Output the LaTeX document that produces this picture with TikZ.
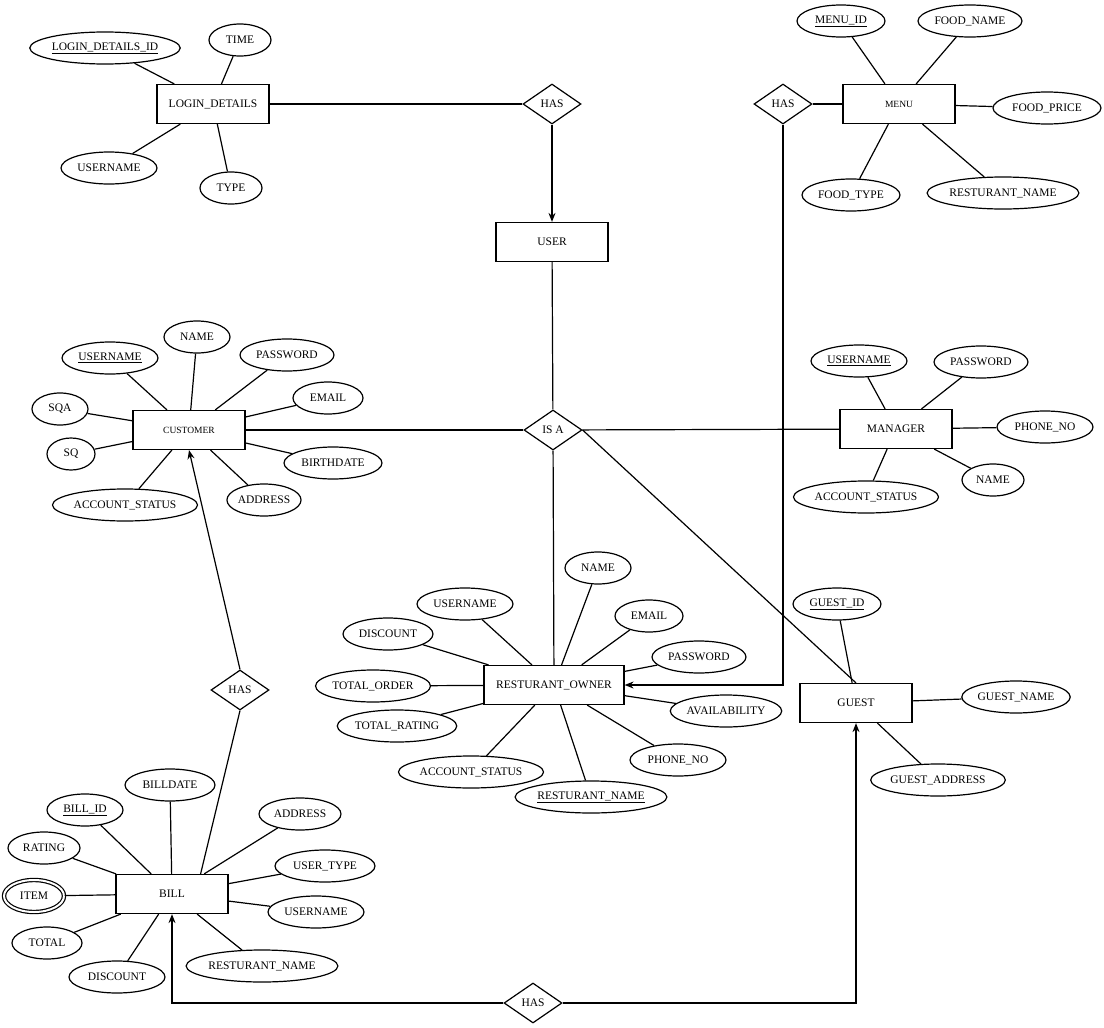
\documentclass[tikz,border=0pt]{standalone}
\usepackage{fontspec}
\setmainfont{Liberation Serif}
\usetikzlibrary{shapes.geometric,arrows.meta}
\begin{document}
\begin{tikzpicture}[x=1pt,y=-1pt,line width=1.2pt,
  font=\fontsize{11.5}{13}\selectfont,
  ent/.style={draw,rectangle,minimum width=112pt,minimum height=39pt,inner sep=0pt},
  rel/.style={draw,diamond,minimum width=58pt,minimum height=40pt,inner sep=0pt,aspect=1.45},
  att/.style={draw,ellipse,minimum height=32pt,inner sep=0pt},
  mv/.style={att,double,double distance=2pt},
  arr/.style={-{Stealth[length=9pt,width=7pt]}}]
\useasboundingbox (0,0) rectangle (1104,1028);
% entities
\node[ent] (ld) at (213,104) {LOGIN\_DETAILS};
\node[ent] (user) at (552,242) {USER};
\node[ent] (menu) at (899,104) {\fontsize{9.5}{11}\selectfont MENU};
\node[ent] (cust) at (189,430) {\fontsize{9.5}{11}\selectfont CUSTOMER};
\node[ent] (mgr) at (896,429) {MANAGER};
\node[ent,minimum width=140pt] (ro) at (554,685) {RESTURANT\_OWNER};
\node[ent] (guest) at (856,703) {GUEST};
\node[ent] (bill) at (172,894) {BILL};
% relations
\node[rel] (has1) at (552,104) {HAS};
\node[rel] (has2) at (783,104) {HAS};
\node[rel] (isa) at (553,430) {IS A};
\node[rel] (has3) at (240,690) {HAS};
\node[rel] (has4) at (533,1003) {HAS};
% attributes
\newcommand{\att}[5][att]{\node[#1,minimum width=#4pt] (#2) at #3 {#5};}
\att{a1}{(105,48)}{130}{\underline{LOGIN\_DETAILS\_ID}}
\att{a2}{(240,40)}{62}{TIME}
\att{a3}{(109,168)}{96}{USERNAME}
\att{a4}{(231,188)}{62}{TYPE}
\foreach \a in {a1,a2,a3,a4} \draw (\a) -- (ld);
\att{m1}{(841,21)}{88}{\underline{MENU\_ID}}
\att{m2}{(970,21)}{104}{FOOD\_NAME}
\att{m3}{(1047,108)}{108}{FOOD\_PRICE}
\att{m4}{(851,195)}{98}{FOOD\_TYPE}
\att{m5}{(1003,193)}{142}{RESTURANT\_NAME}
\foreach \a in {m1,m2,m3,m4,m5} \draw (\a) -- (menu);
\att{c1}{(110,358)}{96}{\underline{USERNAME}}
\att{c2}{(197,337)}{66}{NAME}
\att{c3}{(287,355)}{94}{PASSWORD}
\att{c4}{(328,398)}{70}{EMAIL}
\att{c5}{(60,409)}{56}{SQA}
\att{c6}{(71,454)}{48}{SQ}
\att{c7}{(333,463)}{98}{BIRTHDATE}
\att{c8}{(125,505)}{132}{ACCOUNT\_STATUS}
\att{c9}{(264,500)}{74}{ADDRESS}
\foreach \a in {c1,c2,c3,c4,c5,c6,c7,c8,c9} \draw (\a) -- (cust);
\att{g1}{(859,361)}{96}{\underline{USERNAME}}
\att{g2}{(981,362)}{94}{PASSWORD}
\att{g3}{(1045,427)}{96}{PHONE\_NO}
\att{g4}{(993,480)}{62}{NAME}
\att{g5}{(866,497)}{132}{ACCOUNT\_STATUS}
\foreach \a in {g1,g2,g3,g4,g5} \draw (\a) -- (mgr);
\att{r1}{(598,568)}{66}{NAME}
\att{r2}{(465,604)}{96}{USERNAME}
\att{r3}{(649,616)}{68}{EMAIL}
\att{r4}{(388,634)}{90}{DISCOUNT}
\att{r5}{(699,657)}{94}{PASSWORD}
\att{r6}{(373,686)}{110}{TOTAL\_ORDER}
\att{r7}{(726,711)}{110}{AVAILABILITY}
\att{r8}{(397,726)}{116}{TOTAL\_RATING}
\att{r9}{(678,760)}{96}{PHONE\_NO}
\att{r10}{(471,772)}{136}{ACCOUNT\_STATUS}
\att{r11}{(591,797)}{142}{\underline{RESTURANT\_NAME}}
\foreach \a in {r1,r2,r3,r4,r5,r6,r7,r8,r9,r10,r11} \draw (\a) -- (ro);
\att{u1}{(837,604)}{88}{\underline{GUEST\_ID}}
\att{u2}{(1016,697)}{106}{GUEST\_NAME}
\att{u3}{(938,780)}{126}{GUEST\_ADDRESS}
\foreach \a in {u1,u2,u3} \draw (\a) -- (guest);
\att{b1}{(170,785)}{90}{BILLDATE}
\att{b2}{(85,810)}{76}{\underline{BILL\_ID}}
\att{b3}{(300,814)}{82}{ADDRESS}
\att{b4}{(44,848)}{72}{RATING}
\att{b5}{(325,866)}{100}{USER\_TYPE}
\att[mv]{b6}{(34,896)}{60}{ITEM}
\att{b7}{(316,912)}{96}{USERNAME}
\att{b8}{(47,943)}{70}{TOTAL}
\att{b9}{(117,977)}{96}{DISCOUNT}
\att{b10}{(262,966)}{142}{RESTURANT\_NAME}
\foreach \a in {b1,b2,b3,b4,b5,b6,b7,b8,b9,b10} \draw (\a) -- (bill);
% relationships
\draw (ld) -- (has1);
\draw[arr] (has1) -- (user);
\draw (menu) -- (has2);
\draw[arr] (has2.south) |- (ro.east);
\draw (user) -- (isa);
\draw (cust) -- (isa);
\draw (isa) -- (mgr);
\draw (isa) -- (ro);
\draw (isa.east) -- (guest.north);
\draw (bill.north east) ++(-28,0) coordinate (bt) (bt) -- (has3.south);
\draw[arr] (has3.north) -- (cust.south);
\draw[arr] (has4.west) -| (bill.south);
\draw[arr] (has4.east) -| (guest.south);
\end{tikzpicture}
\end{document}
